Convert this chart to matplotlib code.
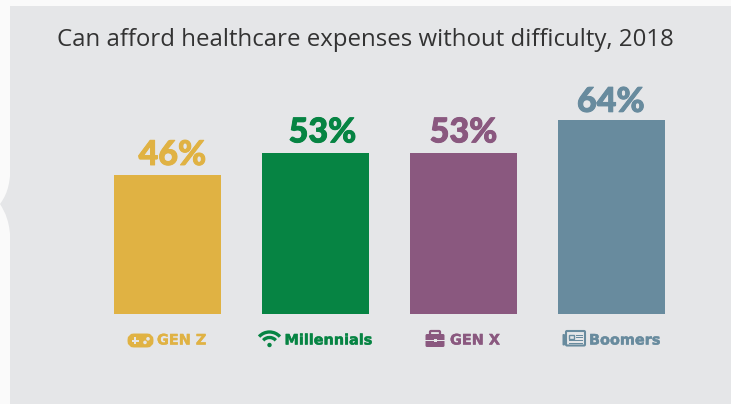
import matplotlib
matplotlib.use('Agg')
import matplotlib.pyplot as plt
import matplotlib.patheffects as pe
from matplotlib.patches import Rectangle, FancyBboxPatch, PathPatch, Circle, Arc
from matplotlib.path import Path

generations = ['GEN Z', 'Millennials', 'GEN X', 'Boomers']
shares = [46, 53, 53, 64]
colors = ['#E0B243', '#068443', '#8A587F', '#688B9E']
value_labels = ['46%', '53%', '53%', '64%']
title = 'Can afford healthcare expenses without difficulty, 2018'

W, H = 731, 404
PANEL = '#E5E6E8'

fig = plt.figure(figsize=(W / 100, H / 100), dpi=100, facecolor='#FAFAFA')

# backdrop layer in pixel coordinates, y pointing down
bg = fig.add_axes([0, 0, 1, 1], zorder=0)
bg.set_xlim(0, W)
bg.set_ylim(H, 0)
bg.axis('off')
bg.add_patch(Rectangle((10, 6), W - 10, H - 6, fc=PANEL, ec='none'))
notch = Path([(10.5, 165), (10.5, 188), (5, 197), (0, 204), (5, 212), (10.5, 222), (10.5, 245), (10.5, 165)],
             [Path.MOVETO, Path.CURVE4, Path.CURVE4, Path.CURVE4, Path.CURVE4, Path.CURVE4, Path.CURVE4, Path.CLOSEPOLY])
bg.add_patch(PathPatch(notch, fc=PANEL, ec='none'))

# bars
ax = fig.add_axes([93.5 / W, (H - 314) / H, 592 / W, 212 / H], zorder=1)
ax.patch.set_alpha(0)
x = range(len(shares))
ax.bar(x, shares, width=107 / 148, color=colors)
ax.set_xlim(-0.5, 3.5)
ax.set_ylim(0, 70)
ax.axis('off')

nudges = [(3.5, 7), (5, 8), (0, 8), (-0.5, 6)]
for i in x:
    ax.annotate(value_labels[i], (i, shares[i]), xytext=nudges[i], textcoords='offset points',
                ha='center', va='baseline', color=colors[i], fontsize=24.5,
                family='Lato', weight='black',
                path_effects=[pe.withStroke(linewidth=0.7, foreground=colors[i])])

fig.text(365.5 / W, 1 - 46 / H, title, ha='center', va='baseline', color='#333333',
         fontsize=17.25, family='Open Sans')

# legend row
label_left = [157, 284.5, 450, 589]
for i in x:
    fig.text(label_left[i] / W, 1 - 344.5 / H, generations[i], ha='left', va='baseline',
             color=colors[i], fontsize=10.4, family='DejaVu Sans', weight='bold',
             path_effects=[pe.withStroke(linewidth=0.3, foreground=colors[i])])

fg = fig.add_axes([0, 0, 1, 1], zorder=2)
fg.set_xlim(0, W)
fg.set_ylim(H, 0)
fg.axis('off')
fg.patch.set_alpha(0)

# gamepad
c = colors[0]
fg.add_patch(FancyBboxPatch((131, 337), 19, 7, boxstyle='round,pad=0,rounding_size=3', fc=c, ec=c, lw=5))
fg.add_patch(Rectangle((131.5, 339.6), 7, 2.2, fc=PANEL, ec='none', zorder=3))
fg.add_patch(Rectangle((133.9, 337.2), 2.2, 7, fc=PANEL, ec='none', zorder=3))
fg.add_patch(Circle((148, 338.8), 1.8, fc=PANEL, ec='none', zorder=3))
fg.add_patch(Circle((145, 342.4), 1.8, fc=PANEL, ec='none', zorder=3))

# wifi
c = colors[1]
for d in (28, 17):
    fg.add_patch(Arc((269.5, 346), d, d, theta1=222, theta2=318, ec=c, lw=2.4))
fg.add_patch(Circle((269.5, 345), 2.2, fc=c, ec='none'))

# briefcase
c = colors[2]
fg.add_patch(FancyBboxPatch((430, 331), 10, 5, boxstyle='round,pad=0,rounding_size=1', fc='none', ec=c, lw=1.6))
fg.add_patch(FancyBboxPatch((425.5, 334), 19, 13, boxstyle='round,pad=0,rounding_size=1.5', fc=c, ec='none'))
fg.add_patch(Rectangle((425, 339.5), 20, 1.2, fc=PANEL, ec='none', zorder=3))
fg.add_patch(Rectangle((433.5, 339), 3, 2.6, fc=PANEL, ec='none', zorder=3))

# newspaper
c = colors[3]
fg.add_patch(FancyBboxPatch((566, 331), 19, 14.5, boxstyle='round,pad=0,rounding_size=1', fc='none', ec=c, lw=1.5))
fg.add_patch(FancyBboxPatch((562.5, 334), 2.5, 11.5, boxstyle='round,pad=0,rounding_size=1', fc=c, ec='none'))
fg.add_patch(Rectangle((568.5, 334.5), 5, 4, fc='none', ec=c, lw=1))
for top in (334.5, 337.2):
    fg.add_patch(Rectangle((575.5, top), 7, 1.1, fc=c, ec='none'))
fg.add_patch(Rectangle((568.5, 340.3), 14, 1.1, fc=c, ec='none'))
fg.add_patch(Rectangle((568.5, 342.8), 14, 1.1, fc=c, ec='none'))

plt.savefig('out.png', dpi=100, facecolor=fig.get_facecolor())
